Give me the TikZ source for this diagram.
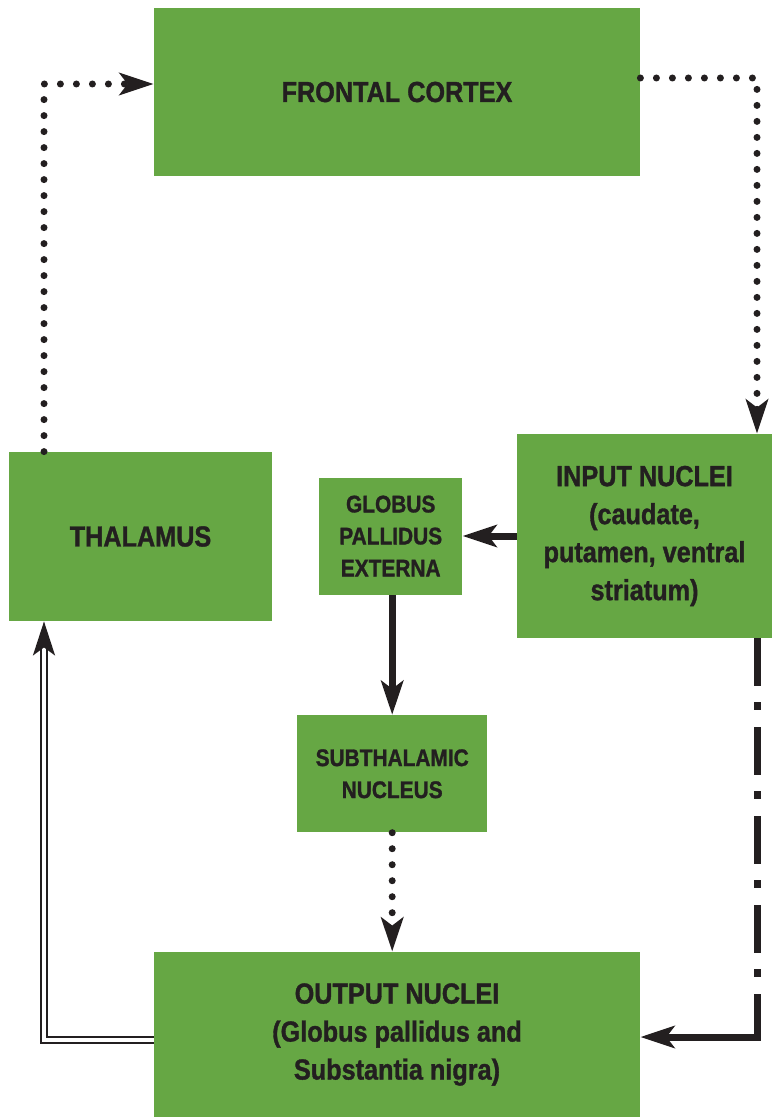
\documentclass[tikz,border=0pt]{standalone}
\usepackage{fontspec}
\setmainfont{Liberation Sans}[FakeStretch=0.87,FakeBold=1.2]
\usetikzlibrary{arrows.meta,positioning}
\definecolor{boxgreen}{RGB}{102,167,68}
\definecolor{ink}{RGB}{35,31,32}

\begin{document}
\begin{tikzpicture}[
  x=0.5pt,y=-0.5pt,
  >={Stealth[length=17pt,width=11pt,inset=4pt]},
  box/.style={fill=boxgreen,text=ink,align=center,inner sep=0pt,
    font=\bfseries\fontsize{14.5}{19}\selectfont},
  smallbox/.style={box,font=\bfseries\fontsize{12}{16}\selectfont},
  thickflow/.style={->,draw=ink,line width=3.5pt},
  dotflow/.style={->,draw=ink,line width=3.5pt,line cap=round,
    dash pattern=on 0pt off 8pt},
  dashdotflow/.style={draw=ink,line width=3.5pt,
    dash pattern=on 24pt off 8pt on 4pt off 8.5pt},
  doubleflow/.style={->,draw=ink,double=white,double distance=1.8pt,
    line width=1.2pt}
]
  \useasboundingbox (0,0) rectangle (772,1117);

  \node[box,minimum width=243pt,minimum height=84pt] (cortex) at (397,92) {FRONTAL CORTEX};
  \node[box,minimum width=131.5pt,minimum height=84.5pt] (thal) at (140.5,536.5) {THALAMUS};
  \node[box,minimum width=127.5pt,minimum height=102pt] (input) at (644.5,536) {INPUT NUCLEI\\(caudate,\\putamen, ventral\\striatum)};
  \node[smallbox,minimum width=71.5pt,minimum height=58.5pt,left=27pt of input] (gpe) {GLOBUS\\PALLIDUS\\EXTERNA};
  \node[smallbox,minimum width=95pt,minimum height=58.5pt,below=60pt of gpe,xshift=0.75pt] (stn) {SUBTHALAMIC\\NUCLEUS};
  \node[box,minimum width=243pt,minimum height=82.5pt] (output) at (397,1034.5) {OUTPUT NUCLEI\\(Globus pallidus and\\Substantia nigra)};

  % corners of the loop
  \coordinate (tl) at (44,84);
  \coordinate (tr) at (757,78);
  \coordinate (br) at (757,1037);
  \coordinate (bl) at (44,1040);

  \draw[dotflow] (tl |- thal.north) -- (tl) -- (cortex.west |- tl);
  \draw[dotflow] (cortex.east |- tr) -- (tr) -- (tr |- input.north);
  \draw[thickflow] (input.west |- gpe.east) -- (gpe.east);
  \draw[thickflow] (gpe.south -| stn.north) -- (stn.north);
  \draw[dotflow] (stn.south) -- (stn.south |- output.north);
  \draw[dashdotflow] (br |- input.south) -- (br);
  \draw[thickflow,line cap=rect] (br) -- (output.east |- br);
  \draw[doubleflow] (output.west |- bl) -- (bl) -- (bl |- thal.south);
\end{tikzpicture}
\end{document}
